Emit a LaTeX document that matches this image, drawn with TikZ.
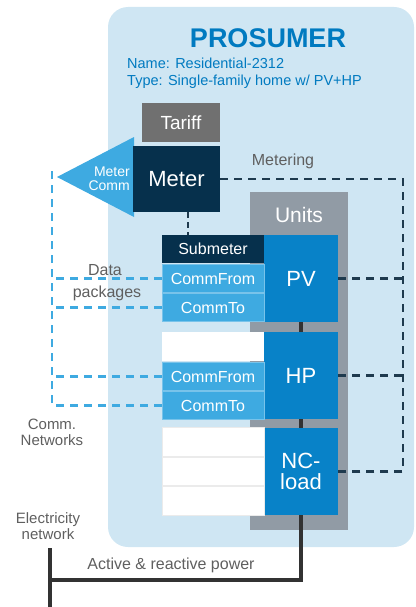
\documentclass[tikz,border=0pt]{standalone}
\usepackage{fontspec}
\setmainfont{Liberation Sans}
\definecolor{bgblue}{RGB}{207,230,243}
\definecolor{titleblue}{RGB}{0,122,192}
\definecolor{tariffgray}{RGB}{112,112,112}
\definecolor{navy}{RGB}{6,48,76}
\definecolor{commblue}{RGB}{62,170,225}
\definecolor{unitblue}{RGB}{8,130,200}
\definecolor{unitsgray}{RGB}{145,155,165}
\definecolor{dashdark}{RGB}{30,58,78}
\definecolor{powerline}{RGB}{50,50,50}
\definecolor{labelgray}{RGB}{95,95,95}
\newcommand{\fs}[1]{\fontsize{#1}{#1}\selectfont}
\tikzset{
  box/.style={rectangle, inner sep=0pt, text=white, align=center},
  leftbox/.style={box, minimum width=102pt, minimum height=28.5pt, font=\fs{16}},
  unitbox/.style={box, fill=unitblue, minimum width=74pt, font=\fs{22}},
  metdash/.style={draw=dashdark, line width=2.6pt, dash pattern=on 8pt off 6pt},
  commdash/.style={draw=commblue, line width=2.3pt, dash pattern=on 8pt off 6pt},
  lbl/.style={text=labelgray, align=center, inner sep=0pt},
  link/.style={draw=powerline, line width=3.2pt},
}
\begin{document}
\begin{tikzpicture}[x=1pt,y=-1pt]
\useasboundingbox (0,0) rectangle (415,607);
% background
\fill[bgblue, rounded corners=20pt] (108,7) rectangle (414,547);
\node[text=titleblue, font=\bfseries\fs{27}, inner sep=0pt] (title) at (268,38) {PROSUMER};
\node[text=titleblue, font=\fs{14.5}, anchor=west, inner sep=0pt] (name) at (127,63) {Name: Residential-2312};
\node[text=titleblue, font=\fs{14.5}, anchor=west, inner sep=0pt] (type) at (127,82) {Type: Single-family home w/ PV+HP};
% units column
\node[box, fill=unitsgray, minimum width=98pt, minimum height=338pt] (units) at (299,361) {};
\node[box, font=\fs{21}] (unitslbl) at (299,215) {Units};
% tariff and meter
\node[box, fill=tariffgray, minimum width=78pt, minimum height=39pt, font=\fs{19}] (tariff) at (181,122.5) {Tariff};
\fill[commblue] (134,137) -- (57,177) -- (134,217) -- cycle;
\node[box, fill=navy, minimum width=87pt, minimum height=66pt, font=\fs{22}] (meter) at (176.5,179) {Meter};
\node[box, font=\fs{14}, align=right, anchor=east] (mcomm) at (130,179) {Meter\\Comm};
% unit boxes
\node[unitbox, minimum height=87pt] (pv) at (301,278.5) {PV};
\node[unitbox, minimum height=87pt] (hp) at (301,375.5) {HP};
\node[unitbox, minimum height=87pt, font=\fs{22}] (nc) at (301,471.5) {NC-\\[-1pt]load};
% left boxes for PV
\node[leftbox, fill=navy] (sub) at (213,249) {Submeter};
\node[leftbox, fill=commblue, draw=commblue!70!white, line width=0.6pt] (cf1) at (213,278.5) {CommFrom};
\node[leftbox, fill=commblue, draw=commblue!70!white, line width=0.6pt] (ct1) at (213,307.5) {CommTo};
% left boxes for HP
\node[leftbox, fill=white] (w1) at (213,346.5) {};
\node[leftbox, fill=commblue, draw=commblue!70!white, line width=0.6pt] (cf2) at (213,376.5) {CommFrom};
\node[leftbox, fill=commblue, draw=commblue!70!white, line width=0.6pt] (ct2) at (213,405.5) {CommTo};
% left boxes for NC-load
\node[leftbox, fill=white, draw=black!8, line width=0.6pt] (w2) at (213,442) {};
\node[leftbox, fill=white, draw=black!8, line width=0.6pt] (w3) at (213,471.5) {};
\node[leftbox, fill=white, draw=black!8, line width=0.6pt] (w4) at (213,501) {};
% short links
\draw[link] (pv.south) -- (hp.north);
\draw[link] (hp.south) -- (nc.north);
\draw[metdash, line width=2.2pt, dash pattern=on 6pt off 4pt] (meter.south -| 188,0) -- (sub.north -| 188,0);
% metering dashed lines
\coordinate (mc) at (403,179);
\draw[metdash] (meter.east) -- (mc) |- (nc.east);
\draw[metdash] (pv.east) -- (pv.east -| mc);
\draw[metdash] (hp.east) -- (hp.east -| mc);
\node[lbl, font=\fs{16}] (meterlbl) at (283,161) {Metering};
% comm network dashed lines
\coordinate (bt) at (52,167);
\draw[commdash] (ct2.west) -| (bt);
\draw[commdash] (cf1.west) -- (cf1.west -| bt);
\draw[commdash] (ct1.west) -- (ct1.west -| bt);
\draw[commdash] (cf2.west) -- (cf2.west -| bt);
\node[lbl, font=\fs{16}] (data) at (105,270) {Data};
\node[lbl, font=\fs{16}] (pack) at (107,293) {packages};
\node[lbl, font=\fs{15}] (commnet) at (52,432) {Comm.\\[1pt]Networks};
% electricity network
\coordinate (gtop) at (50,548);
\coordinate (gbot) at (50,607);
\coordinate (gj) at (50,580);
\draw[link] (gtop) -- (gbot);
\draw[link] (nc.south) |- (gj);
\node[lbl, font=\fs{15}] (elec) at (48,526) {Electricity\\[1pt]network};
\node[lbl, font=\fs{16}] (power) at (171,565) {Active \& reactive power};
\end{tikzpicture}
\end{document}
